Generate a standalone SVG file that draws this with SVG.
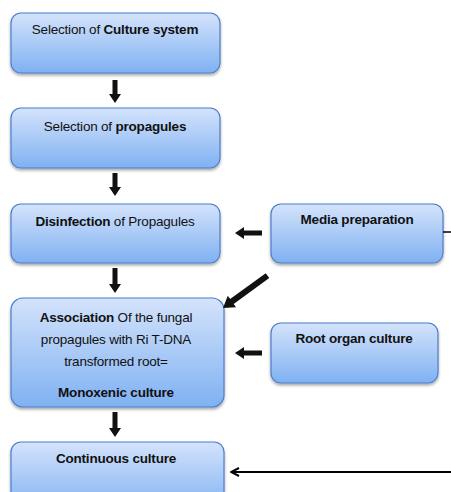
<svg xmlns="http://www.w3.org/2000/svg" width="451" height="492" viewBox="0 0 451 492">
<defs>
<linearGradient id="g" x1="0" y1="0" x2="0" y2="1">
<stop offset="0" stop-color="#d4e3fb"/>
<stop offset="1" stop-color="#7fb1f2"/>
</linearGradient>
<filter id="sh" x="-10%" y="-10%" width="120%" height="130%">
<feDropShadow dx="0" dy="2" stdDeviation="1.5" flood-color="#000" flood-opacity="0.35"/>
</filter>
<marker id="ah" markerWidth="10" markerHeight="10" refX="9" refY="5" orient="auto" markerUnits="userSpaceOnUse">
<path d="M1,1 L9,5 L1,9" fill="none" stroke="#000" stroke-width="2"/>
</marker>
</defs>
<style>
.box{fill:url(#g);stroke:#4d7ec9;stroke-width:1.2;filter:url(#sh)}
text{font-family:"Liberation Sans Narrow","Liberation Sans",Arial,sans-serif;font-size:13.5px;fill:#111;text-anchor:middle;letter-spacing:-0.2px}
.b{font-weight:bold}
.blk{fill:#111}
</style>
<rect width="451" height="492" fill="#fff"/>
<g id="culture-system"><rect class="box" x="11" y="13" width="209" height="60" rx="10"/><text x="115" y="34">Selection of <tspan class="b">Culture  system</tspan></text></g>
<g id="propagules"><rect class="box" x="11" y="108" width="209" height="60" rx="10"/><text x="115" y="131">Selection of <tspan class="b">propagules</tspan></text></g>
<g id="disinfection"><rect class="box" x="11" y="204" width="209" height="59" rx="10"/><text x="115" y="226"><tspan class="b">Disinfection</tspan> of Propagules</text></g>
<g id="association"><rect class="box" x="11" y="298" width="213" height="109" rx="12"/>
<text x="116" y="322"><tspan class="b">Association</tspan> Of the fungal</text>
<text x="116" y="344">propagules with Ri T-DNA</text>
<text x="116" y="366">transformed root=</text>
<text x="116" y="397" class="b">Monoxenic culture</text></g>
<g id="continuous"><rect class="box" x="11" y="442" width="213" height="70" rx="10"/><text x="116" y="463" class="b">Continuous  culture</text></g>
<g id="media"><rect class="box" x="271" y="204" width="172" height="59" rx="10"/><text x="357" y="224" class="b">Media preparation</text></g>
<g id="root-organ"><rect class="box" x="271" y="323" width="167" height="60" rx="10"/><text x="354" y="343" class="b">Root organ culture</text></g>
<g id="connectors">
<polygon class="blk" points="112.5,80 117.5,80 117.5,94 121,94 115,103 109,94 112.5,94"/>
<polygon class="blk" points="112.5,173 117.5,173 117.5,187 121,187 115,196 109,187 112.5,187"/>
<polygon class="blk" points="112.5,268 117.5,268 117.5,284 121,284 115,293 109,284 112.5,284"/>
<polygon class="blk" points="112.5,412 117.5,412 117.5,428 121,428 115,437 109,428 112.5,428"/>
<polygon class="blk" points="262,230.5 244,230.5 244,227 235,233 244,239 244,235.5 262,235.5"/>
<polygon class="blk" points="262,350.5 244,350.5 244,347 235,353 244,359 244,355.5 262,355.5"/>
<g transform="translate(223,308) rotate(-36)">
<polygon class="blk" points="0,0 11,-7 11,-3 55,-3 55,3 11,3 11,7"/>
</g>
<line x1="443" y1="232" x2="451" y2="232" stroke="#000" stroke-width="1.5"/>
<line x1="451" y1="472" x2="231" y2="472" stroke="#000" stroke-width="2" marker-end="url(#ah)"/>
</g>
</svg>
